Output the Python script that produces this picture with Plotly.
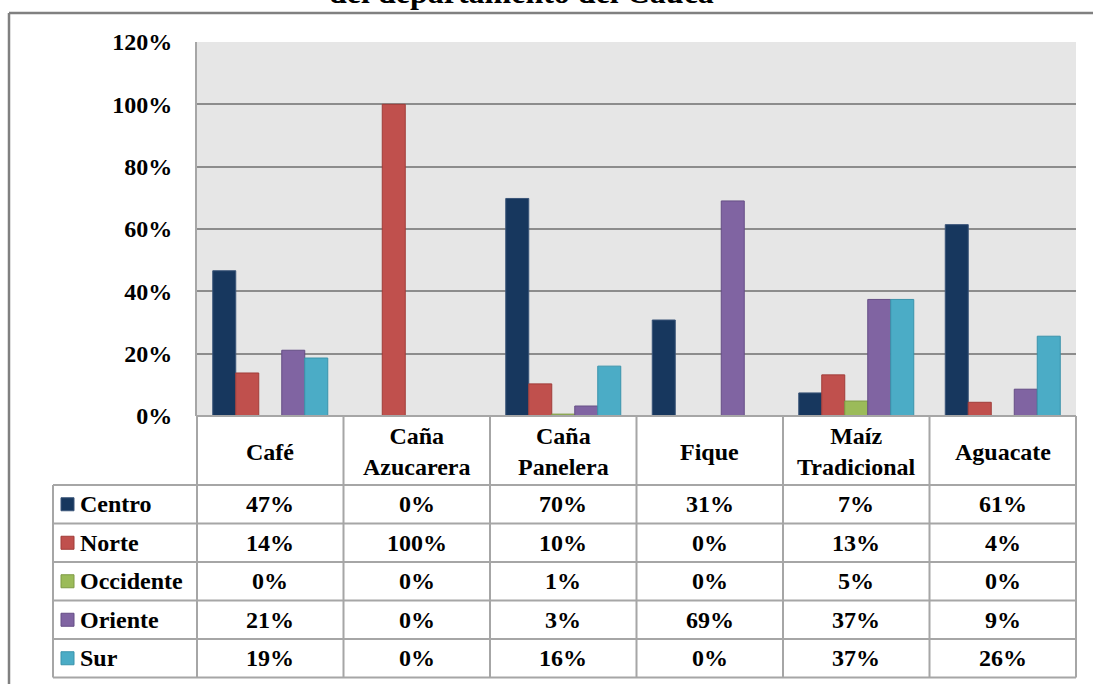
import plotly.graph_objects as go

W, H = 1093, 684

categories = ["Café", "Caña<br>Azucarera", "Caña<br>Panelera", "Fique", "Maíz<br>Tradicional", "Aguacate"]
series_names = ["Centro", "Norte", "Occidente", "Oriente", "Sur"]
centro = [46.6, 0, 69.8, 30.8, 7.4, 61.4]
norte = [13.8, 100, 10.3, 0, 13.2, 4.4]
occidente = [0, 0, 0.6, 0, 4.8, 0]
oriente = [21.1, 0, 3.2, 69.0, 37.4, 8.6]
sur = [18.6, 0, 16.0, 0, 37.4, 25.6]
series_values = [centro, norte, occidente, oriente, sur]
colors = ["#17375E", "#C0504D", "#9BBB59", "#8064A2", "#4BACC6"]
line_colors = ["#3A5478", "#A03C39", "#7E9A45", "#654E85", "#3A93AB"]
y_ticks = [0, 20, 40, 60, 80, 100, 120]
title_text = "del departamento del Cauca"

FONT = "Liberation Serif"
FS = 24

# pixel geometry
PL, PR, PT, PB = 197, 1076, 42, 416
HEAD_B = 485
ROW_H = 38.5
LEG_L = 53


def px(x):
    return x / W


def py(y):
    return 1 - y / H


fig = go.Figure()
for name, vals, c, lc in zip(series_names, series_values, colors, line_colors):
    fig.add_trace(go.Bar(
        x=list(range(len(categories))), y=vals, name=name,
        marker=dict(color=c, line=dict(color=lc, width=1)),
        showlegend=False,
    ))

shapes = []
annotations = []
gray = "#A6A6A6"

# outer frame
shapes.append(dict(type="line", xref="paper", yref="paper", x0=px(9), x1=px(W + 5), y0=py(13), y1=py(13),
                   line=dict(color="#808080", width=2.5)))
shapes.append(dict(type="line", xref="paper", yref="paper", x0=px(9), x1=px(9), y0=py(13), y1=py(H + 5),
                   line=dict(color="#808080", width=2.5)))

ncat = len(categories)
colw = (PR - PL) / ncat
row_bottom = HEAD_B + ROW_H * len(series_names)

# table vertical lines
for i in range(ncat + 1):
    x = PL + i * colw
    shapes.append(dict(type="line", xref="paper", yref="paper", x0=px(x), x1=px(x), y0=py(PB), y1=py(row_bottom),
                       line=dict(color=gray, width=2)))
shapes.append(dict(type="line", xref="paper", yref="paper", x0=px(LEG_L), x1=px(LEG_L), y0=py(HEAD_B), y1=py(row_bottom),
                   line=dict(color=gray, width=2)))
# table horizontal lines
shapes.append(dict(type="line", xref="paper", yref="paper", x0=px(PL), x1=px(PR), y0=py(PB), y1=py(PB),
                   line=dict(color=gray, width=2)))
for r in range(len(series_names) + 1):
    y = HEAD_B + r * ROW_H
    shapes.append(dict(type="line", xref="paper", yref="paper", x0=px(LEG_L), x1=px(PR), y0=py(y), y1=py(y),
                       line=dict(color=gray, width=2)))

# header texts
for i, cat in enumerate(categories):
    cx = PL + (i + 0.5) * colw
    annotations.append(dict(xref="paper", yref="paper", x=px(cx), y=py((PB + HEAD_B) / 2 + 1), text=f"<b>{cat}</b>",
                            showarrow=False, xanchor="center", yanchor="middle",
                            font=dict(family=FONT, size=FS, color="black")))

# rows
for r, (name, vals, c, lc) in enumerate(zip(series_names, series_values, colors, line_colors)):
    cy = HEAD_B + (r + 0.5) * ROW_H
    shapes.append(dict(type="rect", xref="paper", yref="paper", x0=px(61), x1=px(74), y0=py(cy - 6.5), y1=py(cy + 6.5),
                       fillcolor=c, line=dict(color=lc, width=1)))
    annotations.append(dict(xref="paper", yref="paper", x=px(78), y=py(cy), text=f"<b>{name}</b>",
                            showarrow=False, xanchor="left", yanchor="middle",
                            font=dict(family=FONT, size=FS, color="black")))
    for i, v in enumerate(vals):
        cx = PL + (i + 0.5) * colw
        annotations.append(dict(xref="paper", yref="paper", x=px(cx), y=py(cy), text=f"<b>{round(v)}%</b>",
                                showarrow=False, xanchor="center", yanchor="middle",
                                font=dict(family=FONT, size=FS, color="black")))

# title (clipped at the top edge, as in the reference)
annotations.append(dict(xref="paper", yref="paper", x=px(521), y=py(12), text=f"<b>{title_text}</b>",
                        showarrow=False, xanchor="center", yanchor="bottom",
                        font=dict(family=FONT, size=32, color="black")))

fig.update_layout(
    width=W, height=H,
    margin=dict(l=0, r=0, t=0, b=0, autoexpand=False),
    paper_bgcolor="white",
    plot_bgcolor="#E6E6E6",
    barmode="group",
    bargap=0.215,
    bargroupgap=0,
    shapes=shapes,
    annotations=annotations,
    xaxis=dict(domain=[px(PL), px(PR)], range=[-0.5, ncat - 0.5], showticklabels=False, automargin=False,
               showgrid=False, zeroline=False, showline=False, fixedrange=True),
    yaxis=dict(domain=[py(PB), py(PT)], range=[0, 120], tickvals=y_ticks, automargin=False,
               ticktext=[f"<b>{t}%</b>" for t in y_ticks], showgrid=True, gridcolor="#8C8C8C", gridwidth=1.5,
               zeroline=False, showline=True, linecolor=gray, linewidth=2,
               ticklabelstandoff=18,
               tickfont=dict(family=FONT, size=FS, color="black"), fixedrange=True),
    font=dict(family=FONT),
)

fig.write_html("out.html")
